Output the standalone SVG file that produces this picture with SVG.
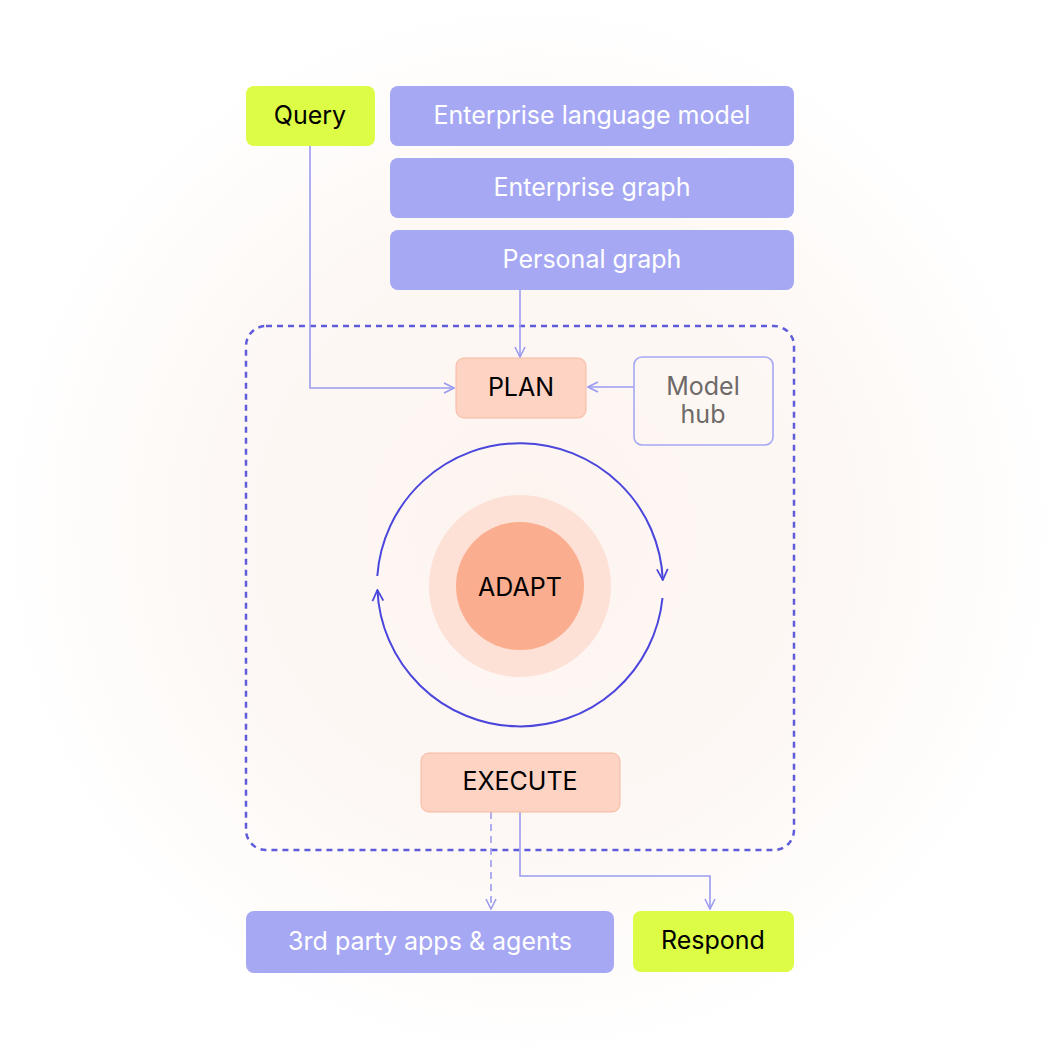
<svg xmlns="http://www.w3.org/2000/svg" width="1060" height="1060" viewBox="0 0 1060 1060">
<defs>
<radialGradient id="bg" cx="0.5" cy="0.5" r="0.5">
<stop offset="0" stop-color="#fdf4ef"/><stop offset="0.6" stop-color="#fdf8f5"/><stop offset="1" stop-color="#ffffff"/>
</radialGradient>
<marker id="a" viewBox="0 0 12 12" refX="11" refY="6" markerWidth="12" markerHeight="12" markerUnits="userSpaceOnUse" orient="auto"><path d="M1,1 L11,6 L1,11" fill="none" stroke="#9b9cf0" stroke-width="1.6"/></marker>
<marker id="b" viewBox="0 0 12 12" refX="11" refY="6" markerWidth="13" markerHeight="13" markerUnits="userSpaceOnUse" orient="auto"><path d="M1,1 L11,6 L1,11" fill="none" stroke="#4a45dc" stroke-width="1.6"/></marker>
<style>
.t{font-family:Inter,"Liberation Sans",sans-serif;font-size:25px;text-anchor:middle;dominant-baseline:central}
.p{fill:#a6a8f3}
.w{fill:#fff}
.g{fill:#dcfc45}
.o{fill:#fdd3c3;stroke:#f7b9a2;stroke-width:1}
.c{fill:none;stroke:#9b9cf0;stroke-width:1.6}
</style>
</defs>
<rect width="1060" height="1060" fill="url(#bg)"/>
<rect x="246" y="326" width="548" height="524" rx="20" fill="none" stroke="#5f5cdc" stroke-width="2.5" stroke-dasharray="6 5"/>
<g id="connectors">
<path class="c" d="M310,146 V388 H454" marker-end="url(#a)"/>
<path class="c" d="M520,290 V357" marker-end="url(#a)"/>
<path class="c" d="M634,387 H588" marker-end="url(#a)"/>
<path class="c" d="M491,812 V909" stroke-dasharray="7 5" marker-end="url(#a)"/>
<path class="c" d="M520,812 V876 H710 V909" marker-end="url(#a)"/>
<path d="M377.3,576 A143,143 0 0 1 662.8,580" fill="none" stroke="#4a45dc" stroke-width="2" marker-end="url(#b)"/>
<path d="M662.5,598 A143,143 0 0 1 377.4,590" fill="none" stroke="#4a45dc" stroke-width="2" marker-end="url(#b)"/>
</g>
<g id="query"><rect class="g" x="246" y="86" width="129" height="60" rx="8"/><text class="t" x="310" y="115">Query</text></g>
<g id="elm"><rect class="p" x="390" y="86" width="404" height="60" rx="8"/><text class="t w" x="592" y="115">Enterprise language model</text></g>
<g id="eg"><rect class="p" x="390" y="158" width="404" height="60" rx="8"/><text class="t w" x="592" y="187">Enterprise graph</text></g>
<g id="pg"><rect class="p" x="390" y="230" width="404" height="60" rx="8"/><text class="t w" x="592" y="259">Personal graph</text></g>
<g id="plan"><rect class="o" x="456" y="358" width="130" height="60" rx="8"/><text class="t" x="521" y="387">PLAN</text></g>
<g id="hub"><rect x="634" y="357" width="139" height="88" rx="8" fill="none" stroke="#a6a8f3" stroke-width="1.6"/><text class="t" x="703" y="386" fill="#6d6a68">Model</text><text class="t" x="703" y="414" fill="#6d6a68">hub</text></g>
<g id="adapt"><circle cx="520" cy="586" r="91" fill="#fde0d6"/><circle cx="520" cy="586" r="64" fill="#fbae8f"/><text class="t" x="520" y="587" font-size="26">ADAPT</text></g>
<g id="execute"><rect class="o" x="421" y="753" width="199" height="59" rx="8"/><text class="t" x="520" y="781">EXECUTE</text></g>
<g id="third"><rect class="p" x="246" y="911" width="368" height="62" rx="8"/><text class="t w" x="430" y="941">3rd party apps &amp; agents</text></g>
<g id="respond"><rect class="g" x="633" y="911" width="161" height="61" rx="8"/><text class="t" x="713" y="940">Respond</text></g>
</svg>
